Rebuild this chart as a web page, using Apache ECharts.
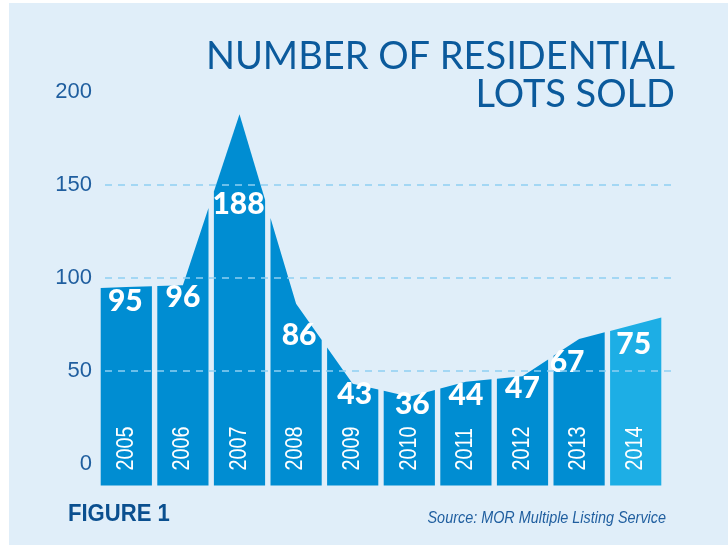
<!DOCTYPE html>
<html>
<head>
<meta charset="utf-8">
<script src="https://cdn.jsdelivr.net/npm/echarts@6/dist/echarts.min.js"></script>
<style>
  html, body { margin: 0; padding: 0; background: #fff; }
  #chart {
    width: 728px; height: 545px;
    background: #E0EEF9;
    box-shadow: inset 9px 3px 0 #fff;
  }
</style>
</head>
<body>
<div id="chart"></div>
<script>
// values
const years = ['2005', '2006', '2007', '2008', '2009', '2010', '2011', '2012', '2013', '2014'];
const lotsSold = [95, 96, 188, 86, 43, 36, 44, 47, 67, 75];
const yTicks = [0, 50, 100, 150, 200];
const gridValues = [50, 100, 150];

// label nudges in px (style only)
const labelDrop = [14, 12, 19, 32, 11, 8, 14, 12, 23, 20];
const labelDx = [-1, 0, -1, 3, 2, 3, 0, 0, -12, -2];

const colBlue = '#008DD2';
const colLight = '#1DAEE5';
const textBlue = '#1F5E9F';
const narrow = "'Liberation Sans Narrow', 'Liberation Sans', Arial, sans-serif";

const chart = echarts.init(document.getElementById('chart'));

function renderColumn(params, api) {
  const i = params.dataIndex;
  const pts = lotsSold.map((v, k) => api.coord([k, v]));
  const band = api.size([1, 0])[0];
  const c = pts[i];
  const half = band / 2 - 2.7;
  const xL = c[0] - half, xR = c[0] + half;
  // top edge follows the polyline through the points
  const yAt = x => {
    let k = Math.floor((x - pts[0][0]) / band);
    k = Math.max(0, Math.min(pts.length - 2, k));
    const a = pts[k], b = pts[k + 1];
    return a[1] + (b[1] - a[1]) * (x - a[0]) / (b[0] - a[0]);
  };
  const zeroY = api.coord([i, 0])[1];
  const base = zeroY + 22;
  const top150 = api.coord([i, 150])[1];
  const labelY = Math.max(c[1], top150) + labelDrop[i];
  return {
    type: 'group',
    children: [
      {
        type: 'polygon',
        shape: { points: [[xL, base], [xL, yAt(xL)], [c[0], c[1]], [xR, yAt(xR)], [xR, base]] },
        style: { fill: i === years.length - 1 ? colLight : colBlue }
      },
      {
        type: 'text',
        x: c[0] + labelDx[i], y: labelY,
        style: {
          text: String(lotsSold[i]),
          fill: '#fff',
          font: "900 30px Lato, Roboto, sans-serif",
          align: 'center', verticalAlign: 'middle'
        }
      },
      {
        type: 'text',
        x: c[0], y: zeroY + 7,
        rotation: Math.PI / 2,
        scaleX: 0.86,
        style: {
          text: years[i],
          fill: '#fff',
          font: '23px ' + narrow,
          align: 'left', verticalAlign: 'middle'
        }
      }
    ]
  };
}

const option = {
  animation: false,
  grid: [
    { left: 105, right: 51, top: 92, bottom: 81.5 },
    { left: 98, right: 64, top: 92, bottom: 81.5 }
  ],
  xAxis: [
    { gridIndex: 0, type: 'value', min: 0, max: 1, show: false },
    { gridIndex: 1, type: 'category', data: years, show: false }
  ],
  yAxis: [
    {
      gridIndex: 0, type: 'value',
      min: yTicks[0], max: yTicks[yTicks.length - 1], interval: 50,
      axisLine: { show: false }, axisTick: { show: false }, splitLine: { show: false },
      axisLabel: { color: textBlue, fontSize: 22, fontFamily: narrow, margin: 13 }
    },
    {
      gridIndex: 1, type: 'value',
      min: yTicks[0], max: yTicks[yTicks.length - 1], show: false
    }
  ],
  series: [
    {
      type: 'custom',
      xAxisIndex: 1, yAxisIndex: 1,
      clip: false,
      renderItem: renderColumn,
      data: lotsSold.map((v, k) => [k, v]),
      z: 2
    },
    {
      type: 'line',
      xAxisIndex: 0, yAxisIndex: 0,
      data: [],
      z: 5,
      markLine: {
        silent: true,
        symbol: 'none',
        label: { show: false },
        lineStyle: { color: '#8FD0F2', type: [7, 6], width: 1.5 },
        data: gridValues.map(v => [{ coord: [0, v] }, { coord: [1, v] }])
      }
    }
  ],
  graphic: [
    {
      type: 'text', x: 675, y: 76,
      style: {
        text: 'NUMBER OF RESIDENTIAL\nLOTS SOLD',
        fill: '#0B5A9C',
        font: '38px Lato, sans-serif',
        lineHeight: 38,
        align: 'right', verticalAlign: 'middle'
      }
    },
    {
      type: 'text', x: 68, y: 514,
      scaleX: 0.92,
      style: {
        text: 'FIGURE 1',
        fill: '#0A4F8F',
        font: 'bold 24px ' + narrow,
        align: 'left', verticalAlign: 'middle'
      }
    },
    {
      type: 'text', x: 666, y: 519,
      scaleX: 0.9,
      style: {
        text: 'Source: MOR Multiple Listing Service',
        fill: textBlue,
        font: 'italic 16px ' + narrow,
        align: 'right', verticalAlign: 'middle'
      }
    }
  ]
};

chart.setOption(option);
</script>
</body>
</html>
